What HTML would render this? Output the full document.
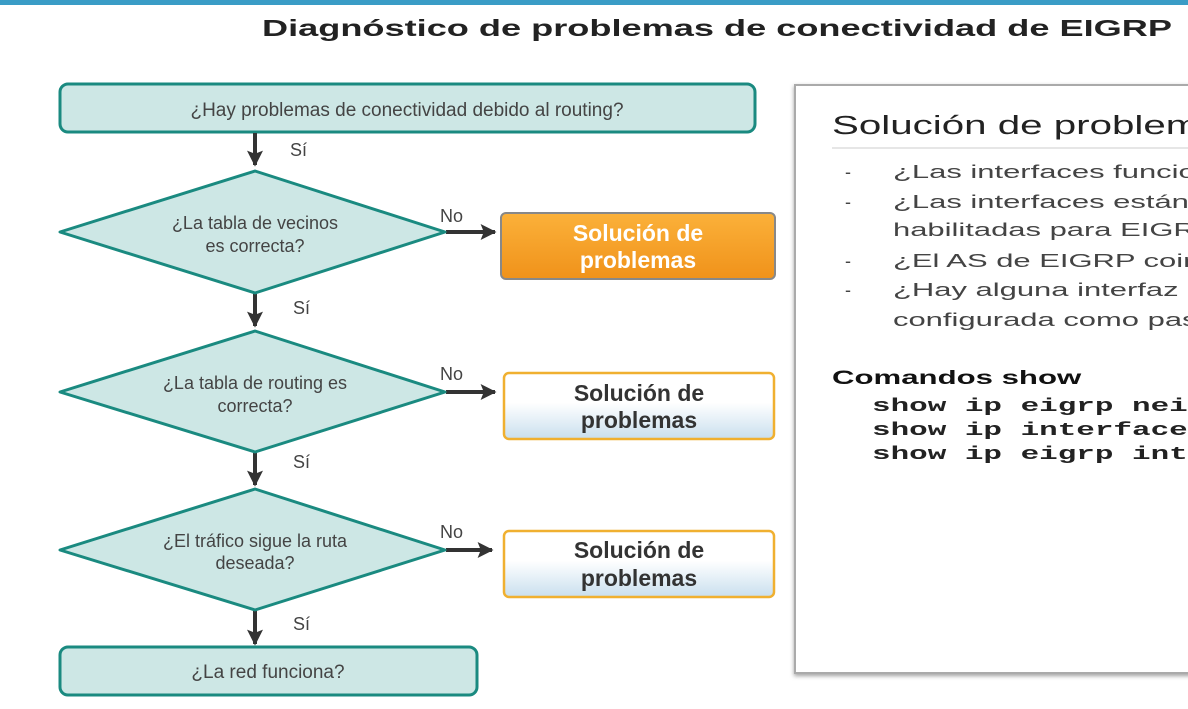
<!DOCTYPE html>
<html><head><meta charset="utf-8"><style>
html,body{margin:0;padding:0;background:#fff;width:1188px;height:709px;overflow:hidden}
svg{display:block}
text{font-family:"Liberation Sans",sans-serif}
text.m{font-family:"Liberation Mono",monospace}
</style></head><body>
<svg width="1188" height="709" viewBox="0 0 1188 709" xmlns="http://www.w3.org/2000/svg">
<defs>
<linearGradient id="og" x1="0" y1="0" x2="0" y2="1"><stop offset="0" stop-color="#fbb13a"/><stop offset="1" stop-color="#f0921a"/></linearGradient>
<linearGradient id="wg" x1="0" y1="0" x2="0" y2="1"><stop offset="0" stop-color="#ffffff"/><stop offset="0.45" stop-color="#ffffff"/><stop offset="1" stop-color="#c9dfee"/></linearGradient>
<marker id="ah2" viewBox="0 0 10 10" markerWidth="16" markerHeight="16" refX="9" refY="5" orient="auto" markerUnits="userSpaceOnUse"><path d="M0,0 L10,5 L0,10 L2,5 Z" fill="#333"/></marker>
<filter id="sh" x="-5%" y="-5%" width="110%" height="110%"><feDropShadow dx="0" dy="2" stdDeviation="2" flood-color="#888" flood-opacity="0.8"/></filter>
</defs>
<rect x="0" y="0" width="1188" height="5" fill="#3a9cc6"/>
<text x="262" y="36" font-size="23" font-weight="bold" fill="#222" textLength="910" lengthAdjust="spacingAndGlyphs">Diagnóstico de problemas de conectividad de EIGRP</text>

<!-- right panel -->
<rect x="795" y="85" width="400" height="588" fill="#fff" stroke="#aaa" stroke-width="2" filter="url(#sh)"/>
<text transform="translate(832,134) scale(1.55,1)" font-size="26" fill="#222">Solución de problemas</text>
<line x1="832" y1="148" x2="1188" y2="148" stroke="#ccc" stroke-width="1"/>
<g font-size="18" fill="#444">
<text x="845" y="178">-</text><text transform="translate(893,178) scale(1.72,1)">¿Las interfaces funcionan?</text>
<text x="845" y="208">-</text><text transform="translate(893,208) scale(1.72,1)">¿Las interfaces están</text>
<text transform="translate(893,236) scale(1.72,1)">habilitadas para EIGRP?</text>
<text x="845" y="267">-</text><text transform="translate(893,267) scale(1.72,1)">¿El AS de EIGRP coincide?</text>
<text x="845" y="296">-</text><text transform="translate(893,296) scale(1.72,1)">¿Hay alguna interfaz</text>
<text transform="translate(893,326) scale(1.72,1)">configurada como pasiva?</text>
</g>
<text transform="translate(832,384) scale(1.64,1)" font-size="19" font-weight="bold" fill="#111">Comandos show</text>
<g font-size="18" font-weight="bold" fill="#222">
<text class="m" transform="translate(872,411) scale(1.72,1)">show ip eigrp neighbors</text>
<text class="m" transform="translate(872,435) scale(1.72,1)">show ip interface brief</text>
<text class="m" transform="translate(872,459) scale(1.72,1)">show ip eigrp interfaces</text>
</g>

<!-- flow -->
<rect x="60" y="84" width="695" height="48" rx="8" fill="#cde7e5" stroke="#1a8a80" stroke-width="3"/>
<text x="407" y="116" font-size="19" fill="#444" text-anchor="middle">¿Hay problemas de conectividad debido al routing?</text>

<g stroke="#333" stroke-width="4">
<line x1="255" y1="133" x2="255" y2="165" marker-end="url(#ah2)"/>
<line x1="255" y1="294" x2="255" y2="326" marker-end="url(#ah2)"/>
<line x1="255" y1="453" x2="255" y2="485" marker-end="url(#ah2)"/>
<line x1="255" y1="611" x2="255" y2="644" marker-end="url(#ah2)"/>
<line x1="446" y1="232" x2="495" y2="232" marker-end="url(#ah2)"/>
<line x1="446" y1="392" x2="495" y2="392" marker-end="url(#ah2)"/>
<line x1="446" y1="550" x2="492" y2="550" marker-end="url(#ah2)"/>
</g>
<g font-size="18" fill="#444">
<text x="290" y="156">Sí</text>
<text x="293" y="314">Sí</text>
<text x="293" y="468">Sí</text>
<text x="293" y="630">Sí</text>
<text x="440" y="222">No</text>
<text x="440" y="380">No</text>
<text x="440" y="538">No</text>
</g>

<g fill="#cde7e5" stroke="#1a8a80" stroke-width="3" stroke-linejoin="round">
<polygon points="255,171 445,232 255,293 60,232"/>
<polygon points="255,331 445,392 255,452 60,392"/>
<polygon points="255,489 445,550 255,610 60,550"/>
</g>
<g font-size="18" fill="#444" text-anchor="middle">
<text x="255" y="229">¿La tabla de vecinos</text>
<text x="255" y="252">es correcta?</text>
<text x="255" y="389">¿La tabla de routing es</text>
<text x="255" y="412">correcta?</text>
<text x="255" y="547">¿El tráfico sigue la ruta</text>
<text x="255" y="569">deseada?</text>
</g>

<rect x="60" y="647" width="417" height="48" rx="8" fill="#cde7e5" stroke="#1a8a80" stroke-width="3"/>
<text x="268" y="678" font-size="19" fill="#444" text-anchor="middle">¿La red funciona?</text>

<rect x="501" y="213" width="274" height="66" rx="5" fill="url(#og)" stroke="#888" stroke-width="2"/>
<text x="638" y="241" font-size="23" font-weight="bold" fill="#fff" text-anchor="middle">Solución de</text>
<text x="638" y="268" font-size="23" font-weight="bold" fill="#fff" text-anchor="middle">problemas</text>

<rect x="504" y="373" width="270" height="66" rx="5" fill="url(#wg)" stroke="#f0b030" stroke-width="2.5"/>
<text x="639" y="401" font-size="23" font-weight="bold" fill="#333" text-anchor="middle">Solución de</text>
<text x="639" y="428" font-size="23" font-weight="bold" fill="#333" text-anchor="middle">problemas</text>

<rect x="504" y="531" width="270" height="66" rx="5" fill="url(#wg)" stroke="#f0b030" stroke-width="2.5"/>
<text x="639" y="558" font-size="23" font-weight="bold" fill="#333" text-anchor="middle">Solución de</text>
<text x="639" y="586" font-size="23" font-weight="bold" fill="#333" text-anchor="middle">problemas</text>
</svg>
</body></html>
